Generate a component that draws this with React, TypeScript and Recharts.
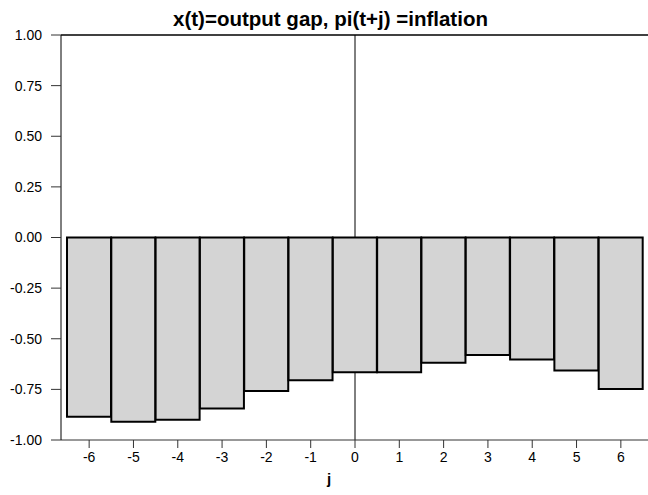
import { BarChart, Bar, XAxis, YAxis, ReferenceLine } from "recharts";

const leads = [-6, -5, -4, -3, -2, -1, 0, 1, 2, 3, 4, 5, 6];
const correlations = [-0.885, -0.91, -0.9, -0.845, -0.758, -0.705, -0.665, -0.665, -0.618, -0.58, -0.603, -0.657, -0.748];
const yTicks = [-1, -0.75, -0.5, -0.25, 0, 0.25, 0.5, 0.75, 1];

const data = leads.map((j, i) => ({ j, corr: correlations[i] }));
const atZero = correlations[leads.indexOf(0)];

const font = '"Liberation Sans", Arial, sans-serif';

export default function App() {
  return (
    <div style={{ position: "absolute", left: 0, top: 0, width: 648, height: 495, fontFamily: font, background: "#fff" }}>
      <div style={{ position: "absolute", left: 0, top: 7, width: 661, textAlign: "center", fontWeight: "bold", fontSize: 20.5, lineHeight: "24px" }}>
        x(t)=output gap, pi(t+j) =inflation
      </div>
      <BarChart width={648} height={495} data={data} margin={{ top: 35, right: 0, bottom: 0, left: 0 }} barCategoryGap={0}>
        <ReferenceLine y={1} stroke="#000" strokeWidth={1.5} />
        <XAxis
          dataKey="j"
          height={55}
          padding={{ left: 6, right: 5 }}
          tickSize={8}
          tickMargin={4}
          axisLine={{ stroke: "#333" }}
          tickLine={{ stroke: "#333" }}
          tick={{ fill: "#000", fontSize: 14, fontFamily: font }}
          interval={0}
        />
        <YAxis
          domain={[-1, 1]}
          ticks={yTicks}
          width={61}
          tickSize={10}
          tickMargin={9}
          tickFormatter={(v: number) => v.toFixed(2)}
          axisLine={{ stroke: "#000" }}
          tickLine={{ stroke: "#333" }}
          tick={{ fill: "#000", fontSize: 14, fontFamily: font }}
        />
        <Bar dataKey="corr" fill="#d4d4d4" stroke="#000" strokeWidth={2} isAnimationActive={false} />
        <ReferenceLine segment={[{ x: 0, y: 1 }, { x: 0, y: 0 }]} stroke="#000" strokeWidth={1} />
        <ReferenceLine segment={[{ x: 0, y: atZero }, { x: 0, y: -1 }]} stroke="#000" strokeWidth={1} />
      </BarChart>
      <div style={{ position: "absolute", left: 300, top: 471, width: 58, textAlign: "center", fontWeight: "bold", fontSize: 15, lineHeight: "16px" }}>
        j
      </div>
    </div>
  );
}
